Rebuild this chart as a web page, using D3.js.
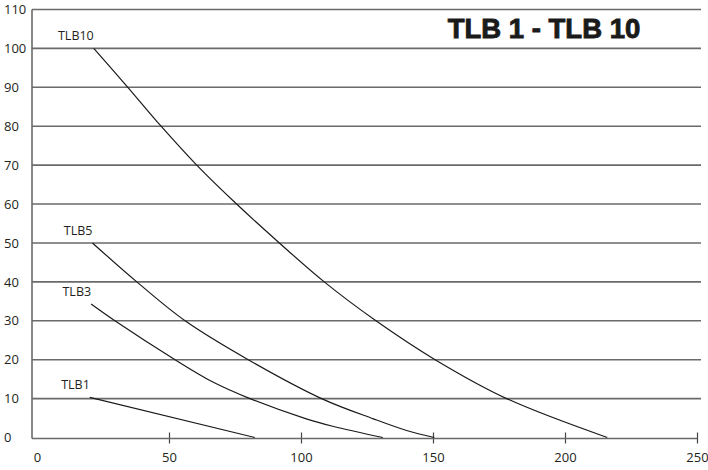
<!DOCTYPE html>
<html>
<head>
<meta charset="utf-8">
<script src="https://cdn.jsdelivr.net/npm/d3@7"></script>
<style>
  html, body { margin: 0; padding: 0; background: #fff; }
  svg { display: block; }
</style>
</head>
<body>
<svg id="chart" width="708" height="470"></svg>
<script>
// ---- data ----
const chartTitle = "TLB 1 - TLB 10";
const xTickValues = [0, 50, 100, 150, 200, 250];
const yTickValues = [0, 10, 20, 30, 40, 50, 60, 70, 80, 90, 100, 110];
const seriesNames = ["TLB1", "TLB3", "TLB5", "TLB10"];
const tlb1 = [[20, 10.3], [82.5, 0]];
const tlb3 = [[20.5, 34.3], [29.5, 30], [52.3, 20], [66.8, 14.2], [80.7, 10], [102, 4.8], [112, 2.9], [131, 0]];
const tlb5 = [[21, 50], [37.8, 40], [56.1, 30], [80, 20], [107.8, 10], [127.4, 4.8], [140, 1.8], [150.5, 0]];
const tlb10 = [[21.5, 100], [34.4, 90], [47, 80], [60.5, 70], [75.6, 60], [91.8, 50], [108.8, 40], [128.4, 30], [150.8, 20], [177.9, 10], [216, 0]];
const seriesValues = [tlb1, tlb3, tlb5, tlb10];

// ---- layout ----
const svg = d3.select("#chart");
const x = d3.scaleLinear().domain([0, 250]).range([37, 697]);
const y = d3.scaleLinear().domain([0, 110]).range([437.5, 9.5]);
const leftEdge = 32;
const gridRight = 701;
const textColor = "#231f20";
const gridColor = "#6a6a6a";
const font = "'Open Sans', 'Noto Sans', sans-serif";

// horizontal grid lines (except 0 -> axis)
svg.append("g")
  .selectAll("line")
  .data(yTickValues.filter(v => v > 0))
  .join("line")
  .attr("x1", leftEdge).attr("x2", gridRight)
  .attr("y1", d => y(d)).attr("y2", d => y(d))
  .attr("stroke", gridColor).attr("stroke-width", 1.6);

// y axis line
svg.append("line")
  .attr("x1", leftEdge).attr("x2", leftEdge)
  .attr("y1", y(110)).attr("y2", y(0) + 1)
  .attr("stroke", gridColor).attr("stroke-width", 1.6);

// x axis via d3.axisBottom
const xAxis = d3.axisBottom(x)
  .tickValues(xTickValues)
  .tickSize(0)
  .tickPadding(0)
  .tickFormat(d3.format("d"));
const gx = svg.append("g").attr("transform", `translate(0,${y(0) + 1})`).call(xAxis);
gx.select(".domain").remove();
gx.selectAll(".tick text")
  .attr("y", 23)
  .attr("dy", 0)
  .attr("fill", textColor)
  .style("font-family", font)
  .style("font-size", "13px");
gx.append("line")
  .attr("x1", leftEdge).attr("x2", x(250))
  .attr("y1", 0).attr("y2", 0)
  .attr("stroke", gridColor).attr("stroke-width", 1.6);
gx.selectAll(".tick").filter(d => d > 0)
  .append("line")
  .attr("y1", -6).attr("y2", 5)
  .attr("stroke", "#444").attr("stroke-width", 1.2);

// y tick labels (left aligned)
const yAxis = d3.axisLeft(y).tickValues(yTickValues).tickSize(0).tickPadding(0).tickFormat(d3.format("d"));
const gy = svg.append("g").attr("transform", "translate(4,0)").call(yAxis);
gy.select(".domain").remove();
gy.selectAll(".tick text")
  .attr("x", 0)
  .attr("text-anchor", "start")
  .attr("fill", textColor)
  .style("font-family", font)
  .style("font-size", "13px");

// curves
const line = d3.line()
  .x(d => x(d[0]))
  .y(d => y(d[1]))
  .curve(d3.curveCatmullRom.alpha(0.5));

svg.append("g")
  .selectAll("path")
  .data(seriesValues)
  .join("path")
  .attr("d", line)
  .attr("fill", "none")
  .attr("stroke", "#1a1a1a")
  .attr("stroke-width", 1.2);

// series labels at each curve start
svg.append("g")
  .selectAll("text")
  .data(seriesNames)
  .join("text")
  .attr("x", (d, i) => x(seriesValues[i][0][0]))
  .attr("y", (d, i) => y(seriesValues[i][0][1]) - 8)
  .attr("text-anchor", "end")
  .attr("fill", textColor)
  .style("font-family", font)
  .style("font-size", "12.5px")
  .text(d => d);

// title
svg.append("text")
  .attr("x", 544)
  .attr("y", 38)
  .attr("text-anchor", "middle")
  .attr("fill", "#1a1a1a")
  .attr("stroke", "#1a1a1a")
  .attr("stroke-width", 0.9)
  .style("font-family", "'Liberation Sans', Arial, sans-serif")
  .style("font-weight", "bold")
  .style("font-size", "27.5px")
  .text(chartTitle);
</script>
</body>
</html>
